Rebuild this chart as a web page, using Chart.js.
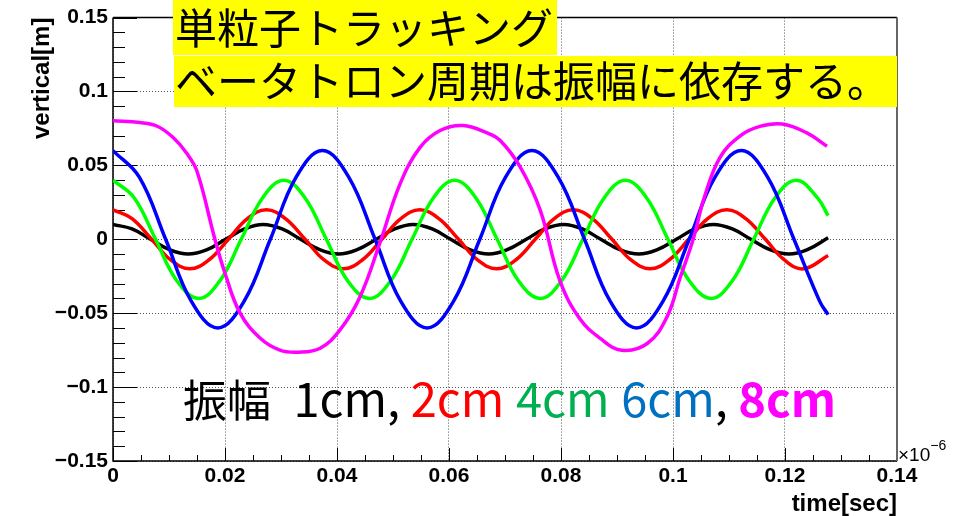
<!DOCTYPE html>
<html><head><meta charset="utf-8">
<script src="https://cdn.jsdelivr.net/npm/chart.js@4.4.0/dist/chart.umd.min.js"></script>
<style>html,body{margin:0;padding:0;background:#fff;overflow:hidden}canvas{display:block}</style>
</head><body>
<canvas id="c" width="964" height="516"></canvas>
<script>
// ---- data ----
const t1cm = [0, 0.0034, 0.0067, 0.0101, 0.0134, 0.0168, 0.0201, 0.0235, 0.0268, 0.0302, 0.0335, 0.0369, 0.0403, 0.0436, 0.047, 0.0503, 0.0536, 0.057, 0.0603, 0.0637, 0.0671, 0.0704, 0.0738, 0.0771, 0.0805, 0.0838, 0.0871, 0.0905, 0.0939, 0.0972, 0.1006, 0.1039, 0.1072, 0.1106, 0.1139, 0.1173, 0.1207, 0.124, 0.1277];
const v1cm = [0.01, 0.007, 0, -0.007, -0.01, -0.007, 0, 0.007, 0.01, 0.007, 0, -0.007, -0.01, -0.007, 0, 0.007, 0.01, 0.007, 0, -0.007, -0.01, -0.007, 0, 0.007, 0.01, 0.007, 0, -0.007, -0.01, -0.007, 0, 0.007, 0.01, 0.007, 0, -0.007, -0.01, -0.007, 0.001];

const t2cm = [0, 0.0034, 0.0069, 0.0103, 0.0137, 0.0171, 0.0206, 0.024, 0.0274, 0.0308, 0.0343, 0.0377, 0.0411, 0.0445, 0.048, 0.0514, 0.0548, 0.0582, 0.0617, 0.0651, 0.0685, 0.0719, 0.0754, 0.0788, 0.0822, 0.0856, 0.0891, 0.0925, 0.0959, 0.0993, 0.1028, 0.1062, 0.1096, 0.113, 0.1165, 0.1199, 0.1233, 0.1277];
const v2cm = [0.02, 0.014, 0, -0.014, -0.02, -0.014, 0, 0.014, 0.02, 0.014, 0, -0.014, -0.02, -0.014, 0, 0.014, 0.02, 0.014, 0, -0.014, -0.02, -0.014, 0, 0.014, 0.02, 0.014, 0, -0.014, -0.02, -0.014, 0, 0.014, 0.02, 0.014, 0, -0.014, -0.02, -0.011];

const t4cm = [0, 0.0038, 0.0076, 0.0114, 0.0153, 0.0191, 0.0229, 0.0267, 0.0305, 0.0343, 0.0381, 0.0419, 0.0458, 0.0496, 0.0534, 0.0572, 0.061, 0.0648, 0.0686, 0.0724, 0.0763, 0.0801, 0.0839, 0.0877, 0.0915, 0.0953, 0.0991, 0.1029, 0.1068, 0.1106, 0.1144, 0.1182, 0.122, 0.1258, 0.1277];
const v4cm = [0.04, 0.028, 0, -0.028, -0.04, -0.028, 0, 0.028, 0.04, 0.028, 0, -0.028, -0.04, -0.028, 0, 0.028, 0.04, 0.028, 0, -0.028, -0.04, -0.028, 0, 0.028, 0.04, 0.028, 0, -0.028, -0.04, -0.028, 0, 0.028, 0.04, 0.028, 0.016];

const t6cm = [0, 0.0047, 0.0094, 0.014, 0.0187, 0.0234, 0.0281, 0.0327, 0.0374, 0.0421, 0.0468, 0.0514, 0.0561, 0.0608, 0.0655, 0.0701, 0.0748, 0.0795, 0.0842, 0.0888, 0.0935, 0.0982, 0.1029, 0.1075, 0.1122, 0.1169, 0.1216, 0.1262, 0.1277];
const v6cm = [0.06, 0.042, 0, -0.042, -0.06, -0.042, 0, 0.042, 0.06, 0.042, 0, -0.042, -0.06, -0.042, 0, 0.042, 0.06, 0.042, 0, -0.042, -0.06, -0.042, 0, 0.042, 0.06, 0.042, 0, -0.042, -0.051];

const t8cm = [0, 0.0048, 0.0079, 0.0107, 0.0132, 0.015, 0.0182, 0.02, 0.0227, 0.0263, 0.0298, 0.0331, 0.037, 0.0405, 0.0441, 0.0477, 0.0513, 0.0548, 0.0584, 0.0625, 0.0668, 0.0691, 0.0727, 0.0763, 0.0798, 0.0834, 0.087, 0.0908, 0.0954, 0.0989, 0.1013, 0.1036, 0.1056, 0.1084, 0.112, 0.1155, 0.1195, 0.1239, 0.1275];
const v8cm = [0.0802, 0.079, 0.0765, 0.069, 0.058, 0.046, 0, -0.023, -0.05, -0.067, -0.075, -0.0764, -0.0737, -0.0615, -0.039, -0.002, 0.0378, 0.062, 0.0736, 0.077, 0.072, 0.067, 0.049, 0.0196, -0.028, -0.054, -0.067, -0.075, -0.0705, -0.0527, -0.0257, 0, 0.0284, 0.0554, 0.07, 0.0764, 0.078, 0.072, 0.063];

const seriesNames = ['1cm', '2cm', '4cm', '6cm', '8cm'];
const seriesTimes = [t1cm, t2cm, t4cm, t6cm, t8cm];
const seriesValues = [v1cm, v2cm, v4cm, v6cm, v8cm];

const xTickLabels = ['0', '0.02', '0.04', '0.06', '0.08', '0.1', '0.12', '0.14'];
const yTickLabels = ['\u22120.15', '\u22120.1', '\u22120.05', '0', '0.05', '0.1', '0.15'];
const xTitle = 'time[sec]';
const yTitle = 'vertical[m]';
const xExponentBase = '\u00d710';
const xExponent = '\u22126';
const titleLines = ['単粒子トラッキング', 'ベータトロン周期は振幅に依存する。'];
const noteTexts = ['振幅', ' 1cm, ', '2cm', ' ', '4cm', ' ', '6cm', ', ', '8cm'];

// ---- styles ----
const seriesColors = ['#000000', '#ff0000', '#00ff00', '#0000ff', '#ff00ff'];
const noteColors = ['#000000', '#000000', '#ff0000', '#000000', '#00b050', '#000000', '#0070c0', '#000000', '#ff00ff'];
const noteBold = [false, false, false, false, false, false, false, false, true];
const noteSizes = [44, 47, 47, 52, 47, 52, 47, 47, 47];
const noteGaps = [0, 12, 0, 0, 0, 0, 0, 0, 0];
const CJK = '"Noto Sans CJK JP", "Noto Sans CJK SC", sans-serif';
const SANS = '"Liberation Sans", Arial, Helvetica, sans-serif';

const datasets = seriesNames.map((name, i) => ({
  label: name,
  data: seriesTimes[i].map((t, k) => ({x: t, y: seriesValues[i][k]})),
  borderColor: seriesColors[i],
  backgroundColor: seriesColors[i],
  borderWidth: 3.5,
  pointRadius: 0,
  fill: false,
  tension: 0.4,
  order: 5 - i
}));

const decor = {
  id: 'decor',
  beforeDatasetsDraw(chart) {
    const {ctx, chartArea: a, scales: {x, y}} = chart;
    ctx.save();
    ctx.strokeStyle = '#000';
    ctx.lineWidth = 1;
    ctx.beginPath();
    for (let i = 0; i <= 30; i++) {
      const py = Math.round(y.getPixelForValue(-0.15 + i * 0.01)) + 0.5;
      const len = (i % 5 === 0) ? 24 : 12;
      ctx.moveTo(a.left, py); ctx.lineTo(a.left + len, py);
    }
    for (let i = 0; i <= 28; i++) {
      const px = Math.round(x.getPixelForValue(i * 0.005)) + 0.5;
      const len = (i % 4 === 0) ? 13 : 6;
      ctx.moveTo(px, a.bottom); ctx.lineTo(px, a.bottom - len);
    }
    ctx.stroke();
    // frame
    ctx.lineWidth = 1.5;
    ctx.beginPath();
    ctx.moveTo(a.left, a.top); ctx.lineTo(a.left, a.bottom);
    ctx.lineTo(a.right, a.bottom);
    ctx.moveTo(a.left, a.top); ctx.lineTo(a.right, a.top);
    ctx.stroke();
    ctx.strokeStyle = '#666';
    ctx.lineWidth = 2;
    ctx.beginPath();
    ctx.moveTo(a.right, a.top); ctx.lineTo(a.right, a.bottom);
    ctx.stroke();
    ctx.restore();
  },
  afterDraw(chart) {
    const {ctx, chartArea: a} = chart;
    ctx.save();
    // exponent of x axis
    ctx.fillStyle = '#000';
    ctx.textBaseline = 'alphabetic';
    ctx.textAlign = 'left';
    ctx.font = '19px ' + SANS;
    ctx.fillText(xExponentBase, a.right + 1, 461);
    const w = ctx.measureText(xExponentBase).width;
    ctx.font = '14px ' + SANS;
    ctx.fillText(xExponent, a.right + 1 + w, 450);
    // title boxes
    ctx.fillStyle = '#ffff00';
    ctx.fillRect(173, 0, 384, 55);
    ctx.fillRect(174, 56, 723, 51);
    ctx.fillStyle = '#000';
    ctx.font = '42px ' + CJK;
    ctx.textBaseline = 'middle';
    ctx.fillText(titleLines[0], 175, 28);
    ctx.fillText(titleLines[1], 175, 81);
    // annotation
    ctx.textBaseline = 'alphabetic';
    let xx = 183;
    noteTexts.forEach((s, i) => {
      xx += noteGaps[i];
      ctx.font = (noteBold[i] ? 'bold ' : '') + noteSizes[i] + 'px ' + CJK;
      ctx.fillStyle = noteColors[i];
      ctx.fillText(s, xx, 417);
      xx += ctx.measureText(s).width;
    });
    ctx.restore();
  }
};

new Chart(document.getElementById('c'), {
  type: 'line',
  data: {datasets},
  options: {
    responsive: false,
    animation: false,
    devicePixelRatio: 1,
    layout: {padding: {top: 17, right: 67, left: 0, bottom: 0}},
    plugins: {legend: {display: false}, tooltip: {enabled: false}},
    scales: {
      x: {
        type: 'linear', min: 0, max: 0.14,
        afterFit(s) { s.height = 55; },
        ticks: {stepSize: 0.02, color: '#000', padding: 3, maxRotation: 0, autoSkip: false,
          font: {family: SANS, size: 21, weight: 'bold'},
          callback: (v, i) => xTickLabels[i]},
        grid: {color: '#555', lineWidth: 1, drawTicks: false},
        border: {display: false, dash: [1, 2]},
        title: {display: true, text: xTitle, align: 'end', color: '#000', padding: 0,
          font: {family: SANS, size: 24, weight: 'bold', lineHeight: 1}}
      },
      y: {
        type: 'linear', min: -0.15, max: 0.15,
        afterFit(s) { s.width = 113; },
        ticks: {stepSize: 0.05, color: '#000', padding: 5, autoSkip: false,
          font: {family: SANS, size: 21, weight: 'bold'},
          callback: (v, i) => yTickLabels[i]},
        grid: {color: '#555', lineWidth: 1, drawTicks: false},
        border: {display: false, dash: [1, 2]},
        title: {display: true, text: yTitle, align: 'end', color: '#000', padding: {top: 30},
          font: {family: SANS, size: 24, weight: 'bold', lineHeight: 1}}
      }
    }
  },
  plugins: [decor]
});
</script>
</body></html>
